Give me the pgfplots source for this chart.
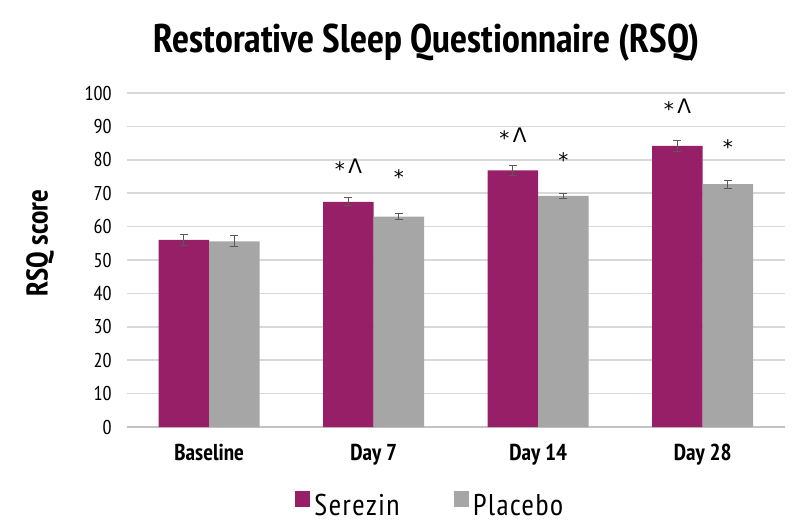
\documentclass[border=0pt]{standalone}
\usepackage{pgfplots}
\pgfplotsset{compat=1.18}
\usepackage{pgfplotstable}
\usepackage{fontspec}
\setmainfont{PT Sans Narrow}
\newfontfamily\dejavu{DejaVu Sans}
\definecolor{serezin}{HTML}{971F68}
\definecolor{placebo}{HTML}{A6A6A6}
\definecolor{gridc}{HTML}{D9D9D9}
\definecolor{errc}{HTML}{595959}
\pgfplotstableread{
x S Se P Pe
0 56.0 1.7 55.6 1.6
1 67.4 1.2 63.0 0.9
2 76.8 1.35 69.2 0.8
3 84.2 1.6 72.7 1.15
}\datatable
\newcommand{\starcaret}{\raisebox{-1.5pt}{*}\,Λ}
\newcommand{\staronly}{\raisebox{-1.5pt}{*}}
\begin{document}
\begin{tikzpicture}[x=1pt,y=1pt]
\path[use as bounding box] (0,0) rectangle (400,263.5);
\begin{axis}[
  at={(63.5pt,50pt)}, anchor=south west,
  scale only axis, width=329pt, height=167pt,
  xmin=-0.5, xmax=3.5, ymin=0, ymax=100,
  xtick={0,1,2,3},
  xticklabels={Baseline, Day 7, Day 14, Day 28},
  ytick={0,10,...,100},
  major tick length=0pt,
  axis line style={draw=none},
  ymajorgrids,
  grid style={color=gridc, line width=0.75pt},
  /pgf/number format/assume math mode=true,
  yticklabel style={font=\fontsize{10}{12}\selectfont, anchor=east, inner sep=0pt, xshift=-7.5pt},
  xticklabel style={font=\bfseries\fontsize{11.5}{13}\selectfont, anchor=base, inner sep=0pt, yshift=-16.5pt},
  legend columns=2,
  legend style={draw=none, fill=none, inner sep=0pt, outer sep=0pt,
    at={(0.2553,-0.2365)}, anchor=west,
    font=\fontsize{15}{17}\selectfont\addfontfeatures{LetterSpace=5},
    /tikz/every even column/.append style={column sep=25pt}},
  legend image code/.code={\fill[#1,draw=none] (-4pt,-0.5pt) rectangle (3.75pt,7.25pt);},
  error bars/error bar style={color=errc, line width=0.5pt},
  error bars/error mark options={rotate=90, mark size=2pt, line width=0.5pt, color=errc},
  clip=false,
]
\draw[color=gridc!90!black, line width=1.2pt] (axis cs:-0.5,0) -- (axis cs:3.5,0);
\addplot[ybar, bar width=0.307, bar shift=0, fill=serezin, draw=none,
  error bars/.cd, y dir=both, y explicit]
  table[x expr=\thisrow{x}-0.1535, y=S, y error=Se] {\datatable};
\addlegendentry{Serezin}
\addplot[ybar, bar width=0.307, bar shift=0, fill=placebo, draw=none,
  error bars/.cd, y dir=both, y explicit]
  table[x expr=\thisrow{x}+0.1535, y=P, y error=Pe] {\datatable};
\addlegendentry{Placebo}
\node[font=\dejavu\fontsize{10}{12}\selectfont] at (axis cs:0.8465,77.7) {\starcaret};
\node[font=\dejavu\fontsize{10}{12}\selectfont] at (axis cs:1.8465,86.8) {\starcaret};
\node[font=\dejavu\fontsize{10}{12}\selectfont] at (axis cs:2.8465,95.5) {\starcaret};
\node[font=\dejavu\fontsize{10}{12}\selectfont] at (axis cs:1.1535,74.7) {\staronly};
\node[font=\dejavu\fontsize{10}{12}\selectfont] at (axis cs:2.1535,79.9) {\staronly};
\node[font=\dejavu\fontsize{10}{12}\selectfont] at (axis cs:3.1535,83.8) {\staronly};
\end{axis}
\node[font=\bfseries\fontsize{20}{22}\selectfont, anchor=base] at (213.5,237.5) {Restorative Sleep Questionnaire (RSQ)};
\node[font=\bfseries\fontsize{15}{17}\selectfont, rotate=90] at (20,142) {RSQ score};
\end{tikzpicture}
\end{document}
